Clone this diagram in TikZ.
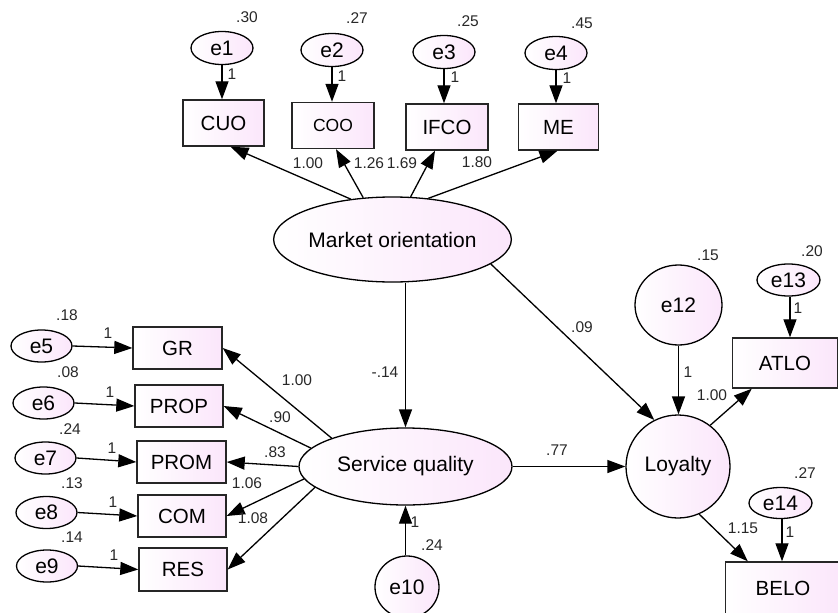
\documentclass[tikz,border=0pt]{standalone}
\usepackage{fontspec}
\setmainfont{Liberation Sans}
\usetikzlibrary{shapes.geometric,arrows.meta,positioning}
\definecolor{pk}{RGB}{251,230,251}
\definecolor{lbl}{RGB}{40,40,40}
\tikzset{
  obs/.style={rectangle,draw=black!85,line width=1.4pt,left color=white,right color=pk,inner sep=0pt,font=\fontsize{20.5}{24}\selectfont},
  lat/.style={ellipse,draw=black,line width=1.3pt,left color=white,right color=pk,inner sep=0pt,font=\fontsize{21}{24}\selectfont},
  lab/.style={inner sep=0pt,text=lbl,font=\fontsize{15.5}{18}\selectfont},
  arr/.style={line width=1.3pt,-{Triangle[length=18pt,width=13pt]}}
}
\begin{document}
\begin{tikzpicture}[x=1pt,y=-1pt]
\useasboundingbox (0,0) rectangle (838,613);
\fill[white] (0,0) rectangle (838,613);
\clip (0,0) rectangle (838,613);
% top indicators
\node[obs,minimum width=81pt,minimum height=46pt] (cuo) at (223.5,123) {CUO};
\node[obs,minimum width=82pt,minimum height=46pt,font=\fontsize{17.5}{20}\selectfont] (coo) at (333,125.5) {COO};
\node[obs,minimum width=82pt,minimum height=46pt] (ifco) at (447,127) {IFCO};
\node[obs,minimum width=80pt,minimum height=46pt] (me) at (558.5,127) {ME};
\node[lat,minimum width=62pt,minimum height=33pt] (e1) at (222,48) {e1};
\node[lat,minimum width=62pt,minimum height=33pt] (e2) at (332,50) {e2};
\node[lat,minimum width=62pt,minimum height=33pt] (e3) at (444,52) {e3};
\node[lat,minimum width=62pt,minimum height=33pt] (e4) at (556,53) {e4};
% left indicators
\node[obs,minimum width=89pt,minimum height=42pt] (gr) at (177.5,348) {GR};
\node[obs,minimum width=88pt,minimum height=42pt] (prop) at (179,406) {PROP};
\node[obs,minimum width=89pt,minimum height=42pt] (prom) at (181.5,462) {PROM};
\node[obs,minimum width=88pt,minimum height=42pt] (com) at (182,516) {COM};
\node[obs,minimum width=88pt,minimum height=43pt] (res) at (183,569.5) {RES};
\node[lat,minimum width=61pt,minimum height=32pt] (e5) at (41.5,346) {e5};
\node[lat,minimum width=61pt,minimum height=32pt] (e6) at (43.5,403) {e6};
\node[lat,minimum width=61pt,minimum height=32pt] (e7) at (45.5,458) {e7};
\node[lat,minimum width=61pt,minimum height=32pt] (e8) at (46.5,512.5) {e8};
\node[lat,minimum width=61pt,minimum height=32pt] (e9) at (47,566) {e9};
% latent
\node[lat,minimum width=181pt,minimum height=85pt] (mo) at (392.5,239.5) {Market orientation};
\node[lat,minimum width=213pt,minimum height=77pt] (sq) at (405.5,466.5) {Service quality};
\node[lat,minimum width=64pt,minimum height=62pt] (e10) at (407,587) {e10};
\node[lat,minimum width=104pt,minimum height=103pt] (loy) at (678,466.5) {Loyalty};
\node[lat,minimum width=87pt,minimum height=80pt] (e12) at (678.5,305) {e12};
\node[lat,minimum width=63pt,minimum height=32pt] (e13) at (788.5,280) {e13};
\node[obs,minimum width=105pt,minimum height=50pt] (atlo) at (785,363) {ATLO};
\node[lat,minimum width=63pt,minimum height=31pt] (e14) at (780.5,503) {e14};
\node[obs,minimum width=115pt,minimum height=60pt] (belo) at (783,592) {};
\node[inner sep=0pt,font=\fontsize{20.5}{24}\selectfont] (belot) at (783,588) {BELO};
% arrows: errors to top indicators
\draw[arr] (e1.south) -- (e1.south |- cuo.north);
\draw[arr] (e2.south) -- (e2.south |- coo.north);
\draw[arr] (e3.south) -- (e3.south |- ifco.north);
\draw[arr] (e4.south) -- (e4.south |- me.north);
% MO to indicators
\draw[arr] (mo.136) -- ([xshift=7pt]cuo.south);
\draw[arr] (mo.125) -- ([xshift=3pt]coo.south);
\draw[arr] (mo.67) -- ([xshift=-12pt]ifco.south);
\draw[arr] (mo.49) -- ([xshift=-1pt]me.south);
% errors left
\draw[arr] (e5.east) -- (gr.west);
\draw[arr] (e6.east) -- (prop.west);
\draw[arr] (e7.east) -- (prom.west);
\draw[arr] (e8.east) -- (com.west);
\draw[arr] (e9.east) -- (res.west);
% SQ to indicators
\draw[arr] (sq.159) -- (gr.east);
\draw[arr] (sq.169) -- (prop.east);
\draw[arr] (sq.180) -- (prom.east);
\draw[arr] (sq.187) -- (com.east);
\draw[arr] (sq.193) -- (res.east);
% structural
\draw[arr] (sq.north |- mo.south) -- (sq.north);
\draw[arr] (mo.-14) -- (loy.117);
\draw[arr] (sq.east) -- (loy.west);
\draw[arr] (e10.north -| sq.south) -- (sq.south);
\draw[arr] (e12.south) -- (loy.north -| e12.south);
\draw[arr] (loy.52) -- ([xshift=20pt]atlo.south west);
\draw[arr] (loy.-66) -- ([xshift=23pt]belo.north west);
\draw[arr] ([xshift=1.5pt]e13.south) -- ([xshift=1.5pt]e13.south |- atlo.north);
\draw[arr] ([xshift=1.5pt]e14.south) -- ([xshift=1.5pt]e14.south |- belo.north);
% labels
\node[lab] (v1) at (247,17) {.30};
\node[lab] (v2) at (357,18) {.27};
\node[lab] (v3) at (468,21) {.25};
\node[lab] (v4) at (582,23) {.45};
\node[lab] (o1) at (232,74) {1};
\node[lab] (o2) at (342,76) {1};
\node[lab] (o3) at (455,77) {1};
\node[lab] (o4) at (567,78) {1};
\node[lab] (m1) at (308,163) {1.00};
\node[lab] (m2) at (369,163) {1.26};
\node[lab] (m3) at (402,163) {1.69};
\node[lab] (m4) at (477,162) {1.80};
\node[lab] (v5) at (67,315) {.18};
\node[lab] (v6) at (68,372) {.08};
\node[lab] (v7) at (70,429) {.24};
\node[lab] (v8) at (72,483) {.13};
\node[lab] (v9) at (72,537) {.14};
\node[lab] (o5) at (108,333) {1};
\node[lab] (o6) at (110,392) {1};
\node[lab] (o7) at (112,448) {1};
\node[lab] (o8) at (113,502) {1};
\node[lab] (o9) at (114,555) {1};
\node[lab] (s1) at (297,380) {1.00};
\node[lab] (s2) at (280,417) {.90};
\node[lab] (s3) at (275,452) {.83};
\node[lab] (s4) at (247,483) {1.06};
\node[lab] (s5) at (253,518) {1.08};
\node[lab] (p1) at (385,372) {-.14};
\node[lab] (p2) at (582,327) {.09};
\node[lab] (p3) at (557,450) {.77};
\node[lab] (v10) at (432,545) {.24};
\node[lab] (o10) at (415,522) {1};
\node[lab] (v12) at (708,255) {.15};
\node[lab] (v13) at (812,251) {.20};
\node[lab] (o12) at (688,372) {1};
\node[lab] (l1) at (712,395) {1.00};
\node[lab] (o13) at (798,308) {1};
\node[lab] (v14) at (805,473) {.27};
\node[lab] (l2) at (743,528) {1.15};
\node[lab] (o14) at (790,532) {1};
\end{tikzpicture}
\end{document}
